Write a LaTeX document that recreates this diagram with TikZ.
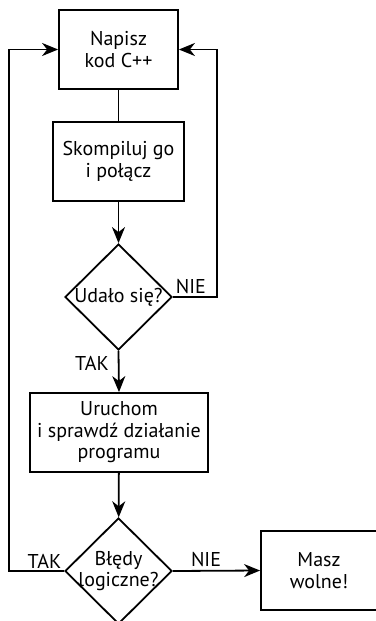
\documentclass[tikz,border=0pt]{standalone}
\usepackage{fontspec}
\setmainfont{PT Sans}
\usetikzlibrary{shapes.geometric,arrows.meta}

\begin{document}
\begin{tikzpicture}[x=1pt,y=-1pt,>={Stealth[length=16pt,width=13pt,inset=5pt]},
    font=\fontsize{20}{21.5}\selectfont, line width=1.8pt,
    krok/.style={draw, rectangle, align=center, inner sep=0pt, minimum height=79pt},
    decyzja/.style={draw, diamond, inner sep=0pt, minimum width=107pt, minimum height=106pt}]
    \useasboundingbox (0,0) rectangle (375,621);

    \node[krok, minimum width=119pt] (napisz) at (118.5,49.5) {Napisz\\kod C++};
    \node[krok, minimum width=131pt] (skompiluj) at (118.5,161.5) {Skompiluj go\\i połącz};
    \node[decyzja, label={[align=center]center:Udało się?}] (udalo) at (118.5,297) {};
    \node[krok, minimum width=178pt] (uruchom) at (119,432.5) {Uruchom\\i sprawdź działanie\\programu};
    \node[decyzja, label={[align=center]center:Błędy\\logiczne?}] (bledy) at (118.5,571) {};
    \node[krok, minimum width=116pt] (masz) at (319,570.5) {Masz\\wolne!};

    \draw (napisz) -- (skompiluj);
    \draw[->] (skompiluj) -- (udalo);
    \draw[->] (udalo.east) node[above right, inner sep=2pt] {NIE} -- ++(44,0) |- (napisz.east);
    \draw[->] (udalo.south) -- node[left, pos=.3, inner sep=9pt] {TAK} (uruchom.north);
    \draw[->] (uruchom) -- (bledy);
    \draw[->] (bledy.west) node[above left, inner sep=2pt] {TAK} -- ++(-55,0) |- (napisz.west);
    \draw[->] (bledy.east) -- node[above, pos=.38] {NIE} (masz.west);
\end{tikzpicture}
\end{document}
